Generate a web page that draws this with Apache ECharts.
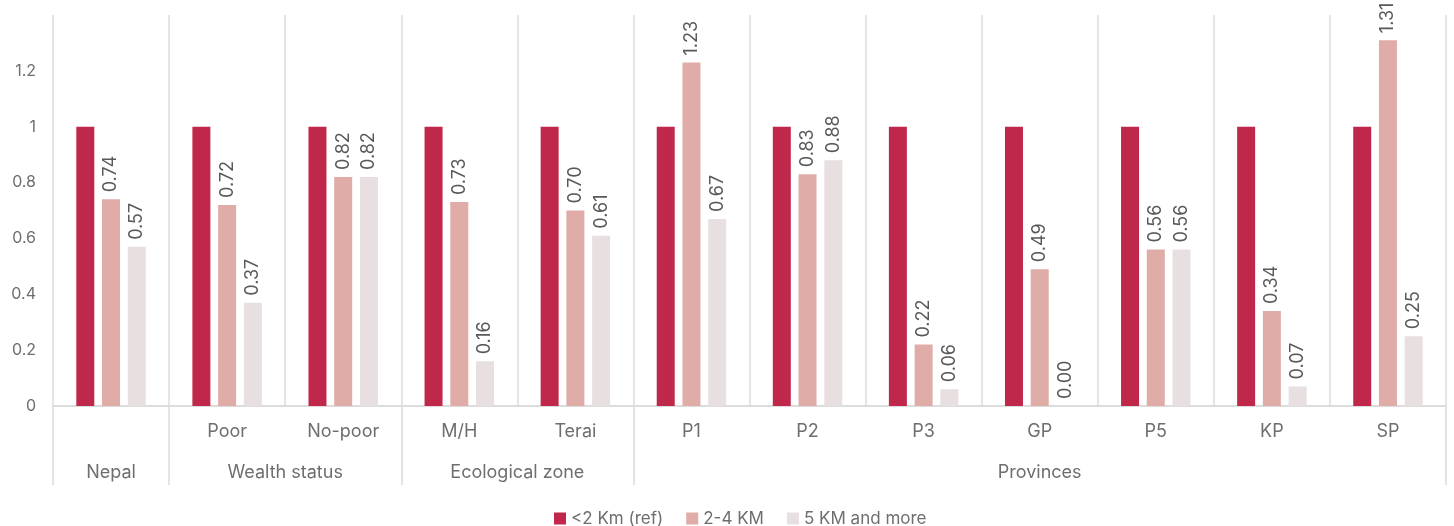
<!DOCTYPE html>
<html>
<head>
<meta charset="utf-8">
<title>Distance to facility</title>
<script src="https://cdn.jsdelivr.net/npm/echarts@6/dist/echarts.min.js"></script>
<style>
  html, body { margin: 0; padding: 0; background: #fff; }
  #chart { width: 1454px; height: 526px; }
</style>
</head>
<body>
<div id="chart"></div>
<script>
// Sub-category labels along the axis (the national total has none)
const categories = ['', 'Poor', 'No-poor', 'M/H', 'Terai', 'P1', 'P2', 'P3', 'GP', 'P5', 'KP', 'SP'];

// Group names, their centre on the 0..12 category scale, and the group boundaries
const groupNames = ['Nepal', 'Wealth status', 'Ecological zone', 'Provinces'];
const groupCenters = [0.5, 2, 4, 8.5];
const groupBounds = [0, 1, 3, 5, 12];

const seriesNames = ['<2 Km (ref)', '2-4 KM', '5 KM and more'];
const refValues = [1, 1, 1, 1, 1, 1, 1, 1, 1, 1, 1, 1];
const midValues = [0.74, 0.72, 0.82, 0.73, 0.70, 1.23, 0.83, 0.22, 0.49, 0.56, 0.34, 1.31];
const farValues = [0.57, 0.37, 0.82, 0.16, 0.61, 0.67, 0.88, 0.06, 0.00, 0.56, 0.07, 0.25];

const yTicks = { min: 0, max: 1.4, interval: 0.2 };

const colors = ['#c0284b', '#dfaca7', '#e8dfe0'];
const gridColor = '#dcdcdc';
const textColor = '#6e6e6e';
const fontFamily = 'Inter, "Open Sans", sans-serif';

const valueLabel = {
  show: true,
  position: 'top',
  rotate: 90,
  align: 'left',
  verticalAlign: 'middle',
  distance: 7,
  color: '#595959',
  fontSize: 18,
  fontFamily: fontFamily,
  formatter: p => p.value.toFixed(2)
};

function barSeries(name, data, color, withLabel) {
  return {
    name: name,
    type: 'bar',
    xAxisIndex: 0,
    data: data,
    barWidth: 18,
    barGap: '43%',
    itemStyle: { color: color },
    label: withLabel ? valueLabel : { show: false },
    emphasis: { disabled: true }
  };
}

const chart = echarts.init(document.getElementById('chart'), null, { renderer: 'canvas' });

chart.setOption({
  animation: false,
  textStyle: { fontFamily: fontFamily },
  grid: { left: 53, right: 8, top: 15, bottom: 120, containLabel: false },
  legend: {
    top: 505,
    left: 549,
    itemWidth: 12,
    itemHeight: 12,
    itemGap: 23,
    icon: 'rect',
    textStyle: { color: textColor, fontSize: 17, fontFamily: fontFamily },
    data: seriesNames
  },
  xAxis: [
    {
      type: 'category',
      data: categories,
      position: 'bottom',
      axisLine: { show: true, lineStyle: { color: gridColor, width: 2 } },
      axisTick: { show: false },
      axisLabel: { color: textColor, fontSize: 18, margin: 17, fontFamily: fontFamily },
      splitLine: { show: true, lineStyle: { color: gridColor, width: 1.5 } }
    },
    {
      type: 'value',
      min: 0,
      max: 12,
      position: 'bottom',
      axisLine: { show: false },
      splitLine: { show: false },
      axisTick: {
        show: true,
        customValues: groupBounds,
        length: 79,
        lineStyle: { color: gridColor, width: 1.5 }
      },
      axisLabel: {
        show: true,
        customValues: groupCenters,
        margin: 58,
        color: textColor,
        fontSize: 18,
        fontFamily: fontFamily,
        formatter: v => groupNames[groupCenters.indexOf(v)] || ''
      }
    }
  ],
  yAxis: {
    type: 'value',
    min: yTicks.min,
    max: yTicks.max,
    interval: yTicks.interval,
    axisLine: { show: false },
    axisTick: { show: false },
    splitLine: { show: false },
    axisLabel: {
      color: textColor,
      fontSize: 16,
      margin: 17,
      fontFamily: fontFamily,
      showMaxLabel: false
    }
  },
  series: [
    barSeries(seriesNames[0], refValues, colors[0], false),
    barSeries(seriesNames[1], midValues, colors[1], true),
    barSeries(seriesNames[2], farValues, colors[2], true)
  ]
});
</script>
</body>
</html>
